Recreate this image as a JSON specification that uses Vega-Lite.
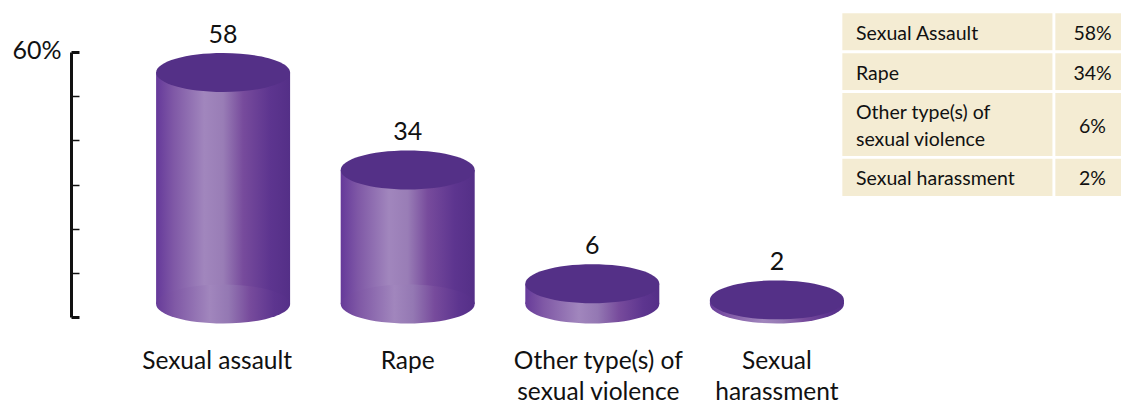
{"$schema":"https://vega.github.io/schema/vega-lite/v6.json","width":1050,"height":265,"autosize":{"type":"none"},"padding":{"left":71,"top":52,"right":0,"bottom":86},"background":"white","config":{"view":{"stroke":null},"font":"Lato","text":{"font":"Lato"}},"datasets":{"cyl":[{"category":"Sexual assault","value":58},{"category":"Rape","value":34},{"category":"Other type(s) of|sexual violence","value":6},{"category":"Sexual|harassment","value":2}],"tbl":[{"type":"Sexual Assault","pct":"58%","top":0,"bottom":1,"mid":0.5},{"type":"Rape","pct":"34%","top":1,"bottom":2,"mid":1.5},{"type":"Other type(s) of sexual violence","pct":"6%","top":2,"bottom":3.65,"mid":2.825},{"type":"Sexual harassment","pct":"2%","top":3.65,"bottom":4.65,"mid":4.15}],"lines":[{"line":"Sexual Assault","mid":0.5},{"line":"Rape","mid":1.5},{"line":"Other type(s) of","mid":2.484},{"line":"sexual violence","mid":3.162},{"line":"Sexual harassment","mid":4.15}]},"layer":[{"data":{"name":"cyl"},"mark":{"type":"rule","opacity":0},"encoding":{"y":{"field":"value","type":"quantitative","scale":{"domain":[0,60],"nice":false},"axis":{"title":null,"values":[0,10,20,30,40,50,60],"grid":false,"domainColor":"#111111","domainWidth":3,"tickColor":"#111111","tickSize":-8,"tickWidth":{"condition":{"test":"datum.value==60||datum.value==0","value":3},"value":1.5},"labelExpr":"datum.value==60?'60%':''","labelFontSize":25,"labelColor":"#111111","labelFont":"Lato","labelPadding":18,"labelOffset":-2,"labelOverlap":false}}}},{"data":{"name":"cyl"},"encoding":{"x":{"field":"category","type":"nominal","sort":null,"scale":{"type":"band","range":[59.8,798.2],"padding":0},"axis":{"title":null,"domain":false,"ticks":false,"labelAngle":0,"labelPadding":32,"labelFont":"Lato","labelFontSize":24.5,"labelColor":"#111111","labelBaseline":"top","labelLineHeight":31,"labelOffset":{"condition":[{"test":"datum.value=='Sexual assault'","value":-6},{"test":"datum.value=='Other type(s) of|sexual violence'","value":6}],"value":0},"labelExpr":"split(datum.label,'|')"}},"y":{"field":"value","type":"quantitative","scale":{"domain":[-2.217,63.05],"nice":false,"zero":false},"axis":null}},"layer":[{"mark":{"type":"bar","size":134,"fill":{"gradient":"linear","x1":0,"x2":1,"y1":0,"y2":0,"stops":[{"offset":0,"color":"#65399a"},{"offset":0.13,"color":"#7f58a6"},{"offset":0.36,"color":"#a186bd"},{"offset":0.5,"color":"#997db6"},{"offset":0.65,"color":"#774b9c"},{"offset":0.85,"color":"#5d358f"},{"offset":1,"color":"#542f87"}]}},"encoding":{"y2":{"datum":1}}},{"mark":{"type":"point","filled":true,"opacity":1,"strokeWidth":0,"size":17956,"shape":"M-1,0C-1,-0.161,-0.552,-0.291,0,-0.291C0.552,-0.291,1,-0.161,1,0C1,0.161,0.552,0.291,0,0.291C-0.552,0.291,-1,0.161,-1,0Z","fill":{"gradient":"linear","x1":0,"x2":1,"y1":0,"y2":0,"stops":[{"offset":0,"color":"#673b99"},{"offset":0.14,"color":"#8059a6"},{"offset":0.4,"color":"#a186bd"},{"offset":0.54,"color":"#9478b3"},{"offset":0.7,"color":"#774b9c"},{"offset":0.88,"color":"#5d358f"},{"offset":1,"color":"#552f88"}]}},"encoding":{"y":{"datum":1}}},{"mark":{"type":"point","filled":true,"opacity":1,"strokeWidth":0,"size":17956,"color":"#543087","shape":"M-1,0C-1,-0.161,-0.552,-0.291,0,-0.291C0.552,-0.291,1,-0.161,1,0C1,0.161,0.552,0.291,0,0.291C-0.552,0.291,-1,0.161,-1,0Z"}},{"mark":{"type":"text","dy":-38,"fontSize":25,"font":"Lato","color":"#111111","baseline":"middle"},"encoding":{"text":{"field":"value","type":"quantitative"}}}]},{"data":{"name":"tbl"},"mark":{"type":"rect","fill":"#f4ecd3","stroke":"white","strokeWidth":2.7},"encoding":{"x":{"datum":0,"type":"quantitative","scale":{"domain":[0,1],"range":[770,983]},"axis":null},"x2":{"datum":1},"y":{"field":"top","type":"quantitative","scale":{"domain":[0,4.65],"range":[-40,145.3],"nice":false,"zero":false},"axis":null},"y2":{"field":"bottom"}}},{"data":{"name":"tbl"},"mark":{"type":"rect","fill":"#f4ecd3","stroke":"white","strokeWidth":2.7},"encoding":{"x":{"datum":0,"type":"quantitative","scale":{"domain":[0,1],"range":[983,1052]},"axis":null},"x2":{"datum":1},"y":{"field":"top","type":"quantitative","scale":{"domain":[0,4.65],"range":[-40,145.3],"nice":false,"zero":false},"axis":null},"y2":{"field":"bottom"}}},{"data":{"name":"lines"},"mark":{"type":"text","align":"left","baseline":"middle","dx":15,"dy":2,"fontSize":19.5,"font":"Lato","color":"#111111"},"encoding":{"x":{"datum":0,"type":"quantitative","scale":{"domain":[0,1],"range":[770,983]},"axis":null},"y":{"field":"mid","type":"quantitative","scale":{"domain":[0,4.65],"range":[-40,145.3],"nice":false,"zero":false},"axis":null},"text":{"field":"line"}}},{"data":{"name":"tbl"},"mark":{"type":"text","align":"center","baseline":"middle","dx":4,"dy":2,"fontSize":19.5,"font":"Lato","color":"#111111"},"encoding":{"x":{"datum":0.5,"type":"quantitative","scale":{"domain":[0,1],"range":[983,1052]},"axis":null},"y":{"field":"mid","type":"quantitative","scale":{"domain":[0,4.65],"range":[-40,145.3],"nice":false,"zero":false},"axis":null},"text":{"field":"pct"}}}],"resolve":{"scale":{"x":"independent","y":"independent"},"axis":{"x":"independent","y":"independent"}}}
